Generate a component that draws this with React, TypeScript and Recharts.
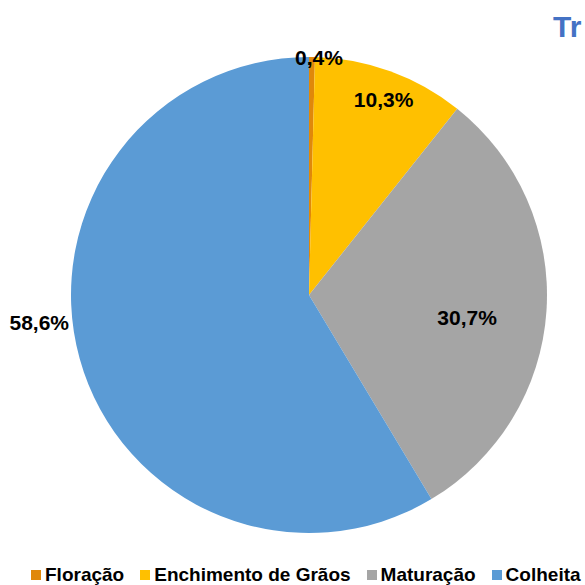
import { PieChart, Pie, Cell } from 'recharts'

const stages = ['Floração', 'Enchimento de Grãos', 'Maturação', 'Colheita']
const shares = [0.4, 10.3, 30.7, 58.6]
const colors = ['#E0880A', '#FFC000', '#A5A5A5', '#5B9BD5']

const data = stages.map((name, i) => ({ name, value: shares[i] }))

const RAD = Math.PI / 180
const FONT = '"Liberation Sans", Arial, sans-serif'

// radius factor + nudges per slice, roughly where Excel put them
const labelPlacement = [
  { r: 1.0, dx: 7, dy: 0, anchor: 'middle' },
  { r: 0.88, dx: 3, dy: 1, anchor: 'middle' },
  { r: 0.67, dx: -1, dy: 12, anchor: 'middle' },
  { r: 1.0, dx: -2, dy: 0, anchor: 'end' },
]

const renderLabel = (props: any) => {
  const { cx, cy, midAngle, outerRadius, index, value } = props
  const p = labelPlacement[index]
  let x = cx + outerRadius * p.r * Math.cos(-midAngle * RAD) + p.dx
  let y = cy + outerRadius * p.r * Math.sin(-midAngle * RAD) + p.dy
  if (p.anchor === 'end') {
    x = cx - outerRadius + p.dx
    y = cy + 27
  }
  return (
    <text
      x={x}
      y={y}
      textAnchor={p.anchor}
      dominantBaseline="central"
      fill="#000"
      fontFamily={FONT}
      fontWeight="bold"
      fontSize={21}
    >
      {`${Number(value).toFixed(1).replace('.', ',')}%`}
    </text>
  )
}

export default function App() {
  return (
    <div
      style={{
        position: 'fixed',
        top: 0,
        left: 0,
        width: 585,
        height: 585,
        overflow: 'hidden',
        background: '#fff',
        fontFamily: FONT,
      }}
    >
      <div
        style={{
          position: 'absolute',
          left: 553,
          top: 10,
          color: '#4472C4',
          fontWeight: 'bold',
          fontSize: 30,
          whiteSpace: 'nowrap',
        }}
      >
        Tr
      </div>
      <PieChart width={585} height={585} margin={{ top: 0, right: 0, bottom: 0, left: 0 }}>
        <Pie
          data={data}
          dataKey="value"
          nameKey="name"
          cx={309}
          cy={295}
          outerRadius={238}
          startAngle={90}
          endAngle={-270}
          stroke="none"
          label={renderLabel}
          labelLine={false}
          isAnimationActive={false}
        >
          {data.map((d, i) => (
            <Cell key={d.name} fill={colors[i]} />
          ))}
        </Pie>
      </PieChart>
      <div
        style={{
          position: 'absolute',
          left: 31,
          top: 564,
          display: 'flex',
          alignItems: 'center',
          gap: 16,
          fontSize: 19,
          fontWeight: 'bold',
          color: '#000',
          whiteSpace: 'nowrap',
        }}
      >
        {stages.map((s, i) => (
          <div key={s} style={{ display: 'flex', alignItems: 'center', gap: 4 }}>
            <span style={{ width: 10, height: 10, background: colors[i], display: 'inline-block' }} />
            <span>{s}</span>
          </div>
        ))}
      </div>
    </div>
  )
}
